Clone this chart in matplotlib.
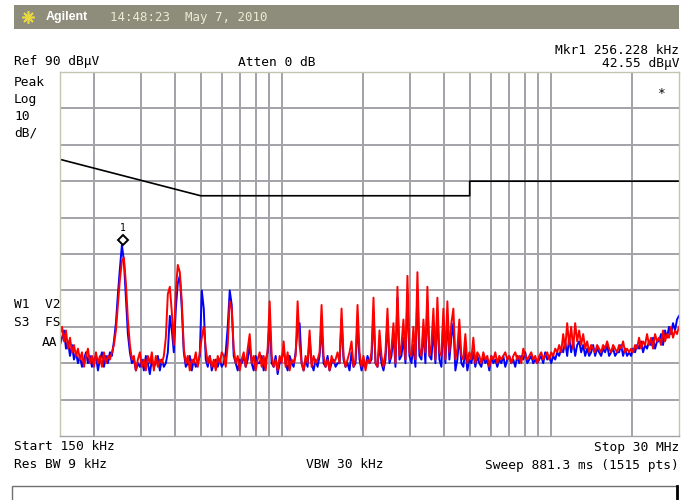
import numpy as np
import matplotlib as mpl
mpl.use('Agg')
from matplotlib import pyplot as plt
from matplotlib.patches import Rectangle
from matplotlib.lines import Line2D

W, H = 691, 500

# sweep: 150 kHz .. 30 MHz, log spaced (levels read every ~2 px of the screen)
f_start, f_stop = 0.15, 30.0   # MHz
n_pts = 311

red_dbuv = [
    18, 20, 16, 19, 14, 17, 13, 15, 12, 14, 11, 13, 9, 12, 14, 10, 12, 9, 13, 10,
    12, 9, 13, 10, 12, 11, 13, 15, 19, 26, 33, 38, 39, 32, 22, 15, 11, 12, 8, 11,
    13, 9, 11, 8, 12, 10, 13, 8, 12, 9, 11, 10, 12, 17, 29, 31, 24, 15, 30, 37,
    35, 27, 14, 10, 12, 8, 11, 10, 13, 9, 13, 17, 20, 14, 10, 12, 9, 11, 8, 12,
    10, 13, 12, 9, 15, 27, 25, 14, 10, 12, 8, 11, 13, 9, 14, 18, 10, 12, 8, 11,
    13, 9, 12, 8, 14, 27, 12, 9, 11, 8, 12, 10, 16, 9, 13, 8, 11, 10, 12, 27,
    15, 10, 8, 12, 10, 19, 9, 12, 10, 11, 13, 26, 12, 9, 11, 8, 12, 10, 11, 13,
    10, 25, 12, 9, 11, 13, 16, 9, 11, 26, 13, 9, 12, 8, 11, 10, 13, 28, 10, 9,
    19, 12, 9, 13, 25, 11, 14, 21, 10, 31, 12, 15, 22, 11, 34, 13, 12, 20, 11, 35,
    14, 12, 22, 13, 31, 12, 15, 25, 11, 28, 13, 12, 25, 11, 27, 13, 21, 25, 11, 14,
    22, 12, 11, 18, 10, 13, 11, 17, 10, 13, 12, 10, 13, 11, 12, 9, 12, 11, 13, 10,
    12, 11, 12, 13, 11, 12, 10, 12, 13, 11, 12, 10, 14, 12, 11, 12, 13, 11, 12, 10,
    12, 13, 11, 12, 13, 11, 13, 12, 14, 13, 15, 13, 18, 14, 21, 15, 20, 14, 21, 16,
    19, 15, 18, 14, 16, 13, 15, 14, 13, 15, 14, 13, 15, 14, 16, 14, 13, 15, 14, 13,
    15, 14, 16, 13, 14, 13, 14, 13, 15, 14, 17, 14, 16, 15, 18, 15, 17, 14, 18, 16,
    17, 15, 19, 16, 18, 17, 20, 17, 19, 18, 20,
]

blue_dbuv = [
    15, 17, 19, 14, 16, 12, 15, 11, 13, 10, 12, 9, 11, 13, 10, 12, 9, 11, 12, 8,
    11, 13, 9, 12, 10, 13, 12, 16, 21, 29, 36, 42.5, 38, 28, 18, 13, 10, 11, 8, 10,
    9, 11, 8, 12, 10, 7, 11, 9, 10, 12, 8, 11, 9, 10, 13, 23, 19, 13, 25, 32,
    34, 25, 13, 9, 10, 12, 8, 11, 9, 10, 12, 30, 25, 11, 9, 12, 8, 10, 11, 9,
    11, 9, 10, 13, 20, 30, 26, 12, 10, 8, 11, 10, 12, 9, 11, 15, 10, 8, 12, 10,
    10, 12, 8, 11, 13, 22, 10, 9, 12, 7, 10, 11, 14, 10, 8, 12, 10, 9, 13, 20,
    21, 10, 8, 11, 9, 17, 10, 8, 11, 9, 12, 20, 10, 9, 12, 8, 10, 11, 9, 10,
    10, 22, 11, 9, 10, 8, 13, 9, 10, 21, 11, 8, 10, 9, 12, 10, 11, 24, 10, 9,
    15, 10, 8, 11, 22, 10, 12, 18, 9, 28, 11, 12, 17, 10, 29, 12, 10, 15, 9, 30,
    12, 11, 19, 10, 27, 12, 11, 20, 10, 24, 11, 9, 22, 10, 23, 11, 17, 21, 8, 11,
    18, 10, 9, 14, 8, 11, 10, 13, 9, 12, 10, 9, 12, 10, 11, 8, 12, 10, 11, 9,
    11, 10, 12, 9, 11, 12, 10, 11, 9, 12, 10, 12, 11, 13, 10, 11, 12, 10, 11, 10,
    11, 12, 10, 13, 11, 12, 10, 12, 11, 13, 12, 14, 13, 16, 12, 17, 13, 16, 12, 15,
    16, 13, 15, 12, 14, 12, 13, 15, 12, 14, 13, 12, 14, 13, 15, 12, 13, 14, 12, 13,
    13, 15, 12, 14, 12, 13, 12, 14, 13, 15, 14, 16, 13, 15, 14, 16, 15, 17, 14, 16,
    16, 18, 15, 19, 17, 20, 18, 21, 19, 22, 23,
]

# limit line (EN55022 B)
limit_f = [0.15, 0.5, 5.0, 5.0, 30.0]
limit_db = [66, 56, 56, 60, 60]

mkr_f = 0.256228
mkr_db = 42.55

grid_f = [0.2, 0.3, 0.4, 0.5, 0.6, 0.7, 0.8, 0.9,
          1, 2, 3, 4, 5, 6, 7, 8, 9, 10, 20]
grid_db = [0, 10, 20, 30, 40, 50, 60, 70, 80]

freq = np.geomspace(f_start, f_stop, n_pts)

mono = 'DejaVu Sans Mono'
fs = 9.3


def fx(x):
    return x / W


def fy(y):
    return 1 - y / H


fig = plt.figure(figsize=(W / 100, H / 100), dpi=100)
fig.patch.set_facecolor('white')

ax = fig.add_axes([fx(60), fy(436), (679 - 60) / W, (436 - 72) / H])
ax.set_xscale('log')
ax.set_xlim(f_start, f_stop)
ax.set_ylim(-10, 90)
ax.set_xticks(grid_f)
ax.set_xticks([], minor=True)
ax.set_yticks(grid_db)
ax.tick_params(which='both', length=0, labelbottom=False, labelleft=False)
ax.grid(True, color='#a2a2a8', lw=1.4)
ax.set_axisbelow(True)
for s in ax.spines.values():
    s.set_color('#c4c4b0')
    s.set_linewidth(1.0)
ax.spines['bottom'].set_color('#a2a2a8')

ax.plot(limit_f, limit_db, color='black', lw=1.2)
ax.plot(freq, blue_dbuv, color='#0000ff', lw=1.4)
ax.plot(freq, red_dbuv, color='#ff0000', lw=1.4)

# marker 1
ax.plot([mkr_f], [mkr_db], marker='D', ms=5.5, mfc='white', mec='black',
        mew=1.4, transform=ax.transData + mpl.transforms.ScaledTranslation(0, 5 / 100, fig.dpi_scale_trans))
ax.annotate('1', xy=(mkr_f, mkr_db), xytext=(0, 12), textcoords='offset pixels',
            ha='center', va='bottom', fontsize=7, family=mono)

# header bar
fig.add_artist(Rectangle((fx(14), fy(29)), (679 - 14) / W, 24 / H,
                         transform=fig.transFigure, facecolor='#8e8d7c', edgecolor='none'))
fig.add_artist(Line2D([fx(28)], [fy(17)], marker=(8, 2, 0), ms=9, color='#e8d840',
                      mew=1.2, transform=fig.transFigure))
fig.text(fx(46), fy(17), 'Agilent', color='white', fontsize=9, fontweight='bold',
         family='Liberation Sans', va='center', ha='left')
fig.text(fx(110), fy(17), '14:48:23  May 7, 2010', color='#ecead0', fontsize=9,
         family=mono, va='center', ha='left')

# annotations around the screen
def t(x, y, s, ha='left'):
    fig.text(fx(x), fy(y), s, fontsize=fs, family=mono, va='center', ha=ha, color='black')


t(679, 51, 'Mkr1 256.228 kHz', ha='right')
t(679, 63, '42.55 dBµV', ha='right')
t(14, 62, 'Ref 90 dBµV')
t(238, 62, 'Atten 0 dB')
t(14, 82, 'Peak')
t(14, 99, 'Log')
t(14, 116, '10')
t(14, 133, 'dB/')
t(662, 94, '*', ha='center')
t(14, 305, 'W1  V2')
t(14, 322, 'S3  FS')
t(57, 343, 'AA', ha='right')
t(14, 447, 'Start 150 kHz')
t(679, 447, 'Stop 30 MHz', ha='right')
t(14, 465, 'Res BW 9 kHz')
t(306, 465, 'VBW 30 kHz')
t(679, 465, 'Sweep 881.3 ms (1515 pts)', ha='right')

# bottom message box
fig.add_artist(Rectangle((fx(12), fy(505)), (677 - 12) / W, 19 / H,
                         transform=fig.transFigure, facecolor='white',
                         edgecolor='#707070', lw=1.0))
fig.add_artist(Line2D([fx(677), fx(677)], [fy(486), fy(500)], color='black', lw=2,
                      transform=fig.transFigure))

fig.savefig('out.png', dpi=100)
